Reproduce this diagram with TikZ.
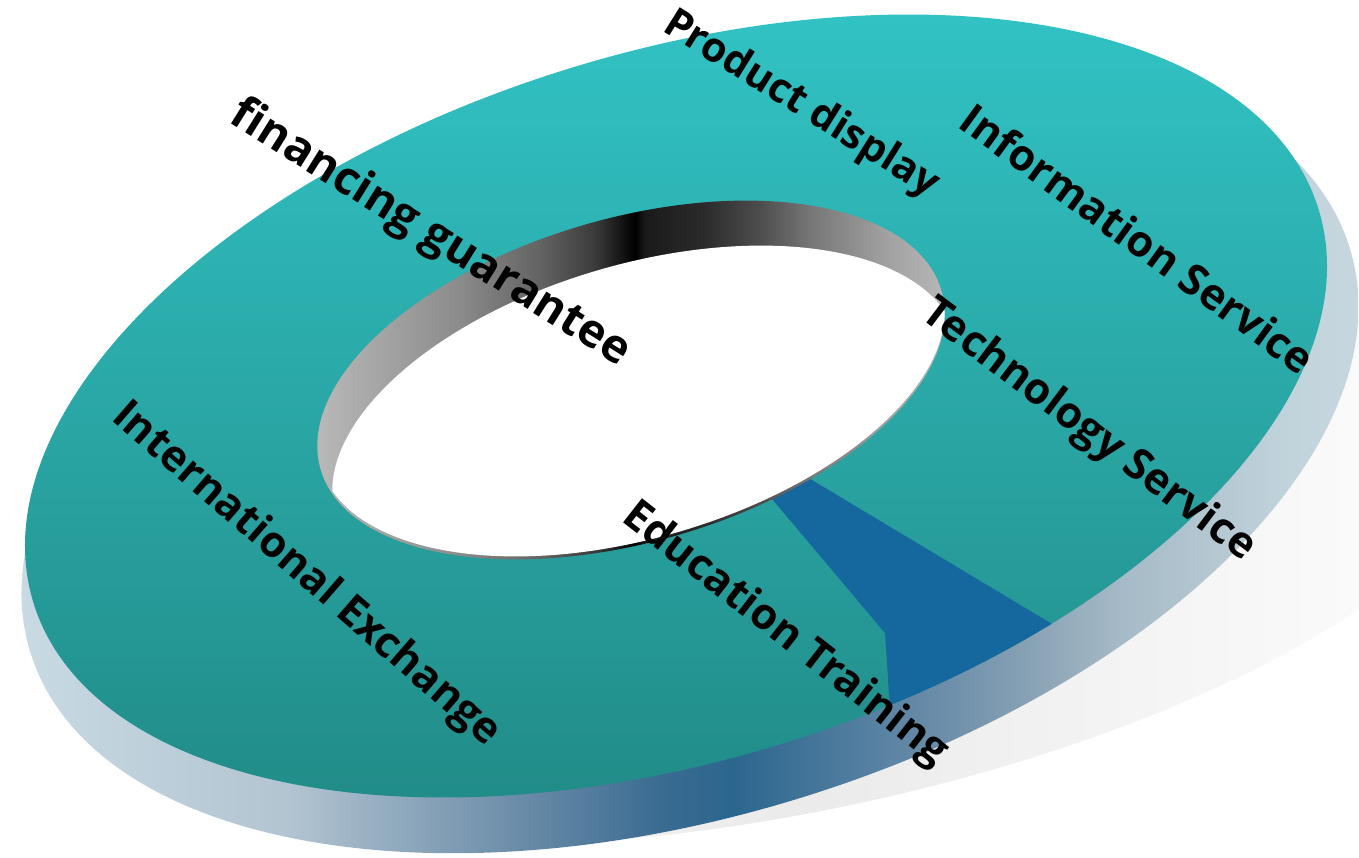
\documentclass[tikz,border=0pt]{standalone}
\usepackage{fontspec}
\newfontfamily\lblfont{Open Sans}
\usetikzlibrary{positioning}
\definecolor{tealtop}{RGB}{51,198,200}
\definecolor{tealbot}{RGB}{32,136,132}
\definecolor{segblue}{RGB}{21,104,158}
% side of the ring: light at both ends, dark blue near the front
\pgfdeclarehorizontalshading{sideshade}{100bp}{
  rgb(0bp)=(0.80,0.87,0.90); rgb(25bp)=(0.80,0.87,0.90);
  rgb(36bp)=(0.70,0.77,0.82); rgb(44bp)=(0.42,0.55,0.66);
  rgb(49bp)=(0.23,0.42,0.57); rgb(51.5bp)=(0.17,0.40,0.56);
  rgb(59bp)=(0.43,0.56,0.67); rgb(62bp)=(0.54,0.64,0.71);
  rgb(65bp)=(0.65,0.73,0.78); rgb(71bp)=(0.76,0.83,0.86);
  rgb(75bp)=(0.79,0.85,0.88); rgb(100bp)=(0.79,0.85,0.88)}
% inner wall of the hole
\pgfdeclarehorizontalshading{wallshade}{100bp}{
  gray(0bp)=(0.75); gray(25bp)=(0.75); gray(37bp)=(0.55);
  gray(43.5bp)=(0.38); gray(47.5bp)=(0.22); gray(50.3bp)=(0.0);
  gray(51bp)=(0.10); gray(55.5bp)=(0.17); gray(59.5bp)=(0.30);
  gray(63.5bp)=(0.47); gray(69bp)=(0.63); gray(75bp)=(0.75);
  gray(100bp)=(0.75)}
\tikzset{
    ringtop/.style = {top color=tealtop, bottom color=tealbot},
    ringside/.style = {shading=sideshade},
    ringwall/.style = {shading=wallshade},
    segment/.style = {fill=segblue},
    ringshadow/.style = {left color=white, right color=white, middle color=black!8},
    mylabel/.style = {font=\lblfont\bfseries\fontsize{43}{50}\selectfont, text=black, inner sep=0pt, anchor=center}
}

\begin{document}
\begin{tikzpicture}[x=1pt, y=1pt]
  \useasboundingbox (0,0) rectangle (1359,-857);
  % shadow under the ring
  \path[ringshadow] (800,-550) ellipse [x radius=720, y radius=260, rotate=12];
  % side of the ring
  \path[ringside] (690,-450) ellipse [x radius=690, y radius=365, rotate=17];
  % top of the ring
  \path[ringtop] (676,-406) ellipse [x radius=672, y radius=354, rotate=17];
  % highlighted segment
  \begin{scope}
    \clip (676,-406) ellipse [x radius=672, y radius=354, rotate=17];
    \path[segment] (740,-461) -- (885,-633) -- (894,-770) -- (1102,-654) -- (777,-459) -- cycle;
  \end{scope}
  % hole: wall and floor
  \path[ringwall] (631,-380) ellipse [x radius=323, y radius=162, rotate=16];
  \begin{scope}
    \clip (631,-380) ellipse [x radius=323, y radius=162, rotate=16];
    \clip (646,-425) ellipse [x radius=323, y radius=162, rotate=16];
    \clip (631,-377) ellipse [x radius=323, y radius=162, rotate=16];
    \fill[white] (300,-180) rectangle (960,-580);
  \end{scope}
  % labels
  \node[mylabel, rotate=-32, font=\lblfont\bfseries\fontsize{41}{48}\selectfont] (prod) at (801,-105) {Product display};
  \node[mylabel, rotate=-36] (info) at (1138,-238) {Information Service};
  \node[mylabel, rotate=-37] (tech) at (1088,-431) {Technology Service};
  \node[mylabel, rotate=-38] (edu) at (785,-635) {Education Training};
  \node[mylabel, rotate=-41] (intl) at (306,-575) {International Exchange};
  \node[mylabel, rotate=-32, font=\lblfont\bfseries\fontsize{46}{54}\selectfont] (fin) at (430,-234) {financing guarantee};
\end{tikzpicture}
\end{document}
